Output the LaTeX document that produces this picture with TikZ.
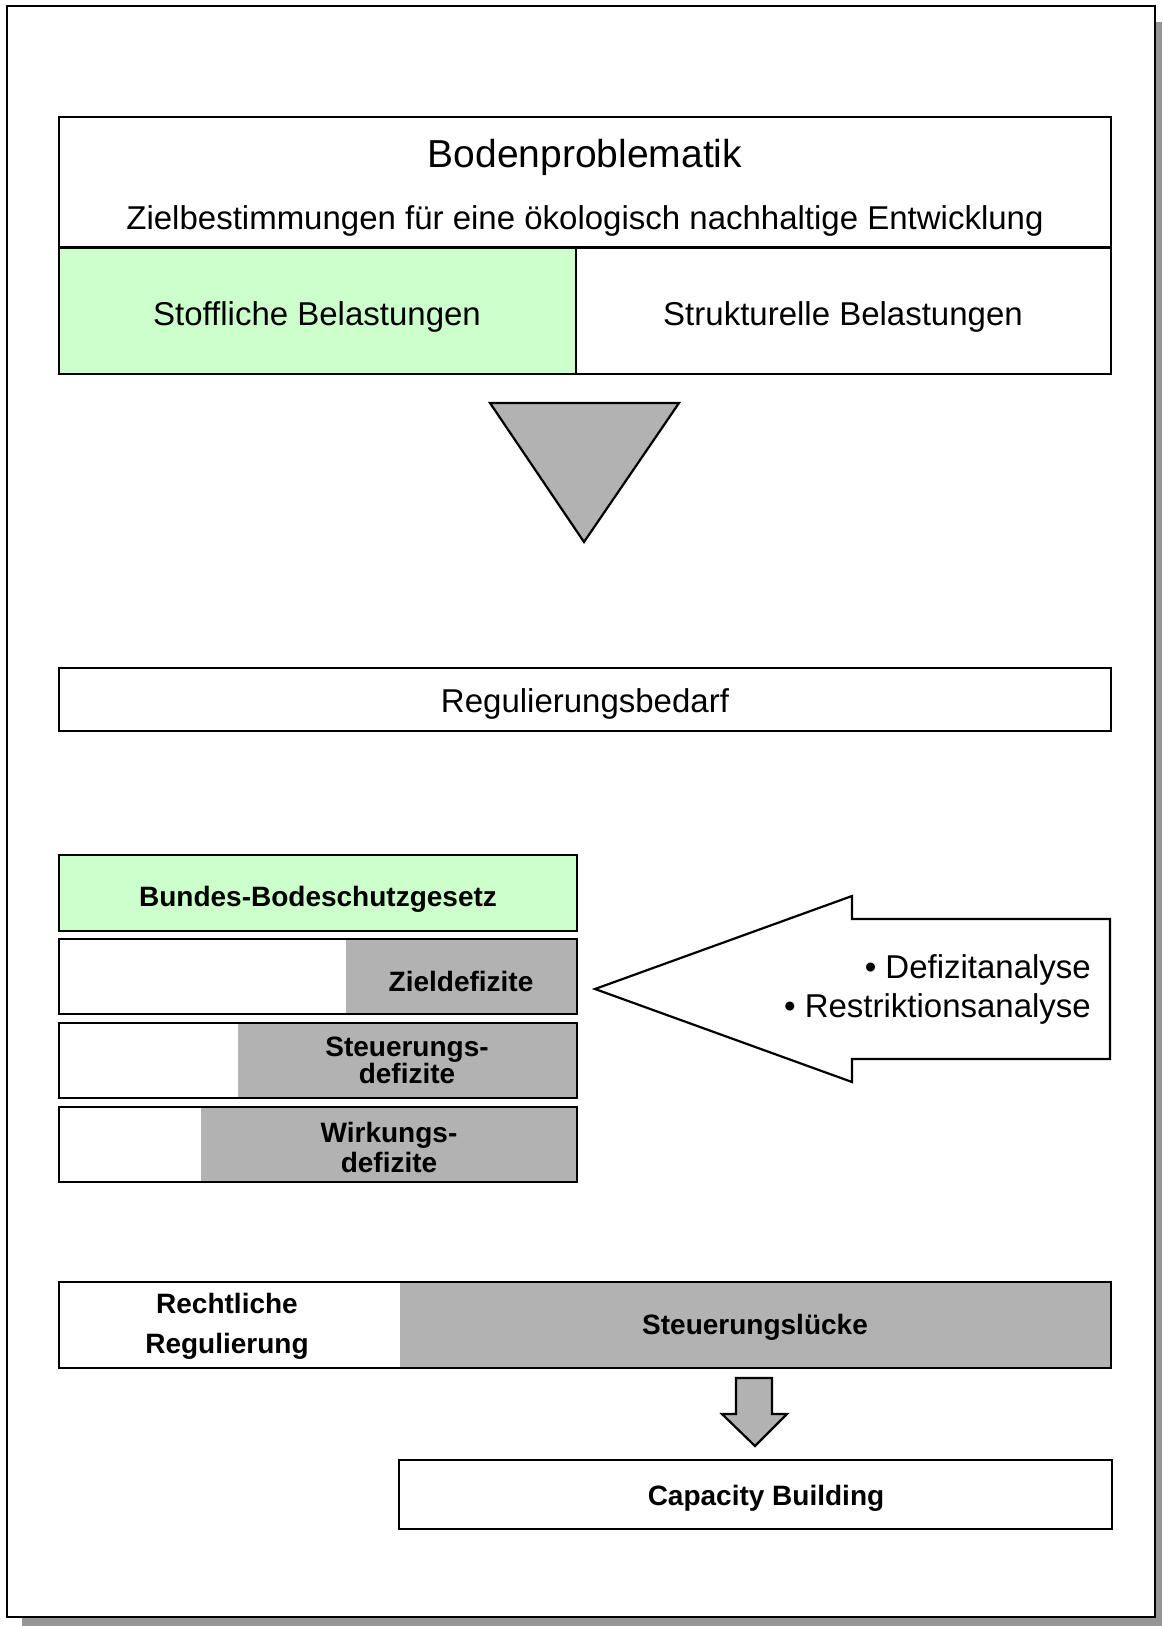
\documentclass[tikz,border=0pt]{standalone}
\usepackage{fontspec}
\setmainfont{Liberation Sans}
\definecolor{lgreen}{HTML}{CCFFCC}
\definecolor{dgray}{HTML}{B2B2B2}
\definecolor{shgray}{HTML}{969696}
\begin{document}
\begin{tikzpicture}[x=0.5pt,y=-0.5pt, line width=1.1pt, line join=miter,
  lbl/.style={font=\fontsize{16.5}{19}\selectfont, inner sep=0pt},
  biglbl/.style={font=\fontsize{19.5}{22}\selectfont, inner sep=0pt},
  blbl/.style={font=\fontsize{14}{13.5}\selectfont\bfseries, inner sep=0pt, align=center},
  boxline/.style={draw=black, line width=1.1pt}]
\useasboundingbox (0,0) rectangle (1162,1626);
% frame with shadow
\fill[shgray] (22,22) rectangle (1162,1626);
\filldraw[fill=white, draw=black] (7,6) rectangle (1155,1617);

% top block
\fill[lgreen] (59,248) rectangle (576,374);
\draw[boxline] (59,117) rectangle (1111,374);
\draw[line width=1.5pt] (59,248) -- (1111,248);
\draw[boxline] (576,248) -- (576,374);
\node[biglbl] (boden) at (585,157) {Bodenproblematik};
\node[lbl] (ziel) at (585,221) {Zielbestimmungen für eine ökologisch nachhaltige Entwicklung};
\node[lbl] (stoff) at (317,317) {Stoffliche Belastungen};
\node[lbl] (struk) at (843,317) {Strukturelle Belastungen};

% triangle
\filldraw[fill=dgray, draw=black] (490,403) -- (679,403) -- (584,542) -- cycle;

% Regulierungsbedarf
\draw[boxline] (59,668) rectangle (1111,731);
\node[lbl] (regbed) at (585,704) {Regulierungsbedarf};

% left stack
\filldraw[fill=lgreen, draw=black] (59,855) rectangle (577,931);
\node[blbl] (bbg) at (318,899) {Bundes-Bodeschutzgesetz};

\fill[dgray] (346,939) rectangle (577,1014);
\draw[boxline] (59,939) rectangle (577,1014);
\node[blbl] (ziel2) at (461,981) {Zieldefizite};

\fill[dgray] (238,1023) rectangle (577,1098);
\draw[boxline] (59,1023) rectangle (577,1098);
\node[blbl] (steu) at (407,1060) {Steuerungs-\\defizite};

\fill[dgray] (201,1107) rectangle (577,1182);
\draw[boxline] (59,1107) rectangle (577,1182);
\node[blbl, font=\fontsize{14}{15}\selectfont\bfseries] (wirk) at (389,1147) {Wirkungs-\\defizite};

% big left arrow
\filldraw[fill=white, draw=black] (595,989) -- (852,896) -- (852,919) -- (1110,919)
  -- (1110,1059) -- (852,1059) -- (852,1082) -- cycle;
\node[lbl, anchor=east, align=right, font=\fontsize{16.5}{19.5}\selectfont] (ana) at (1092,989)
  {• Defizitanalyse\\• Restriktionsanalyse};

% bottom box
\fill[dgray] (400,1282) rectangle (1111,1368);
\draw[boxline] (59,1282) rectangle (1111,1368);
\node[blbl, font=\fontsize{14}{20}\selectfont\bfseries] (recht) at (227,1326) {Rechtliche\\Regulierung};
\node[blbl] (luecke) at (755,1327) {Steuerungslücke};

% small down arrow
\filldraw[fill=dgray, draw=black] (736,1378) -- (772,1378) -- (772,1414) -- (787,1414)
  -- (755,1446) -- (722,1414) -- (736,1414) -- cycle;

% Capacity Building
\draw[boxline] (399,1460) rectangle (1112,1529);
\node[blbl] (cap) at (766,1498) {Capacity Building};
\end{tikzpicture}
\end{document}
